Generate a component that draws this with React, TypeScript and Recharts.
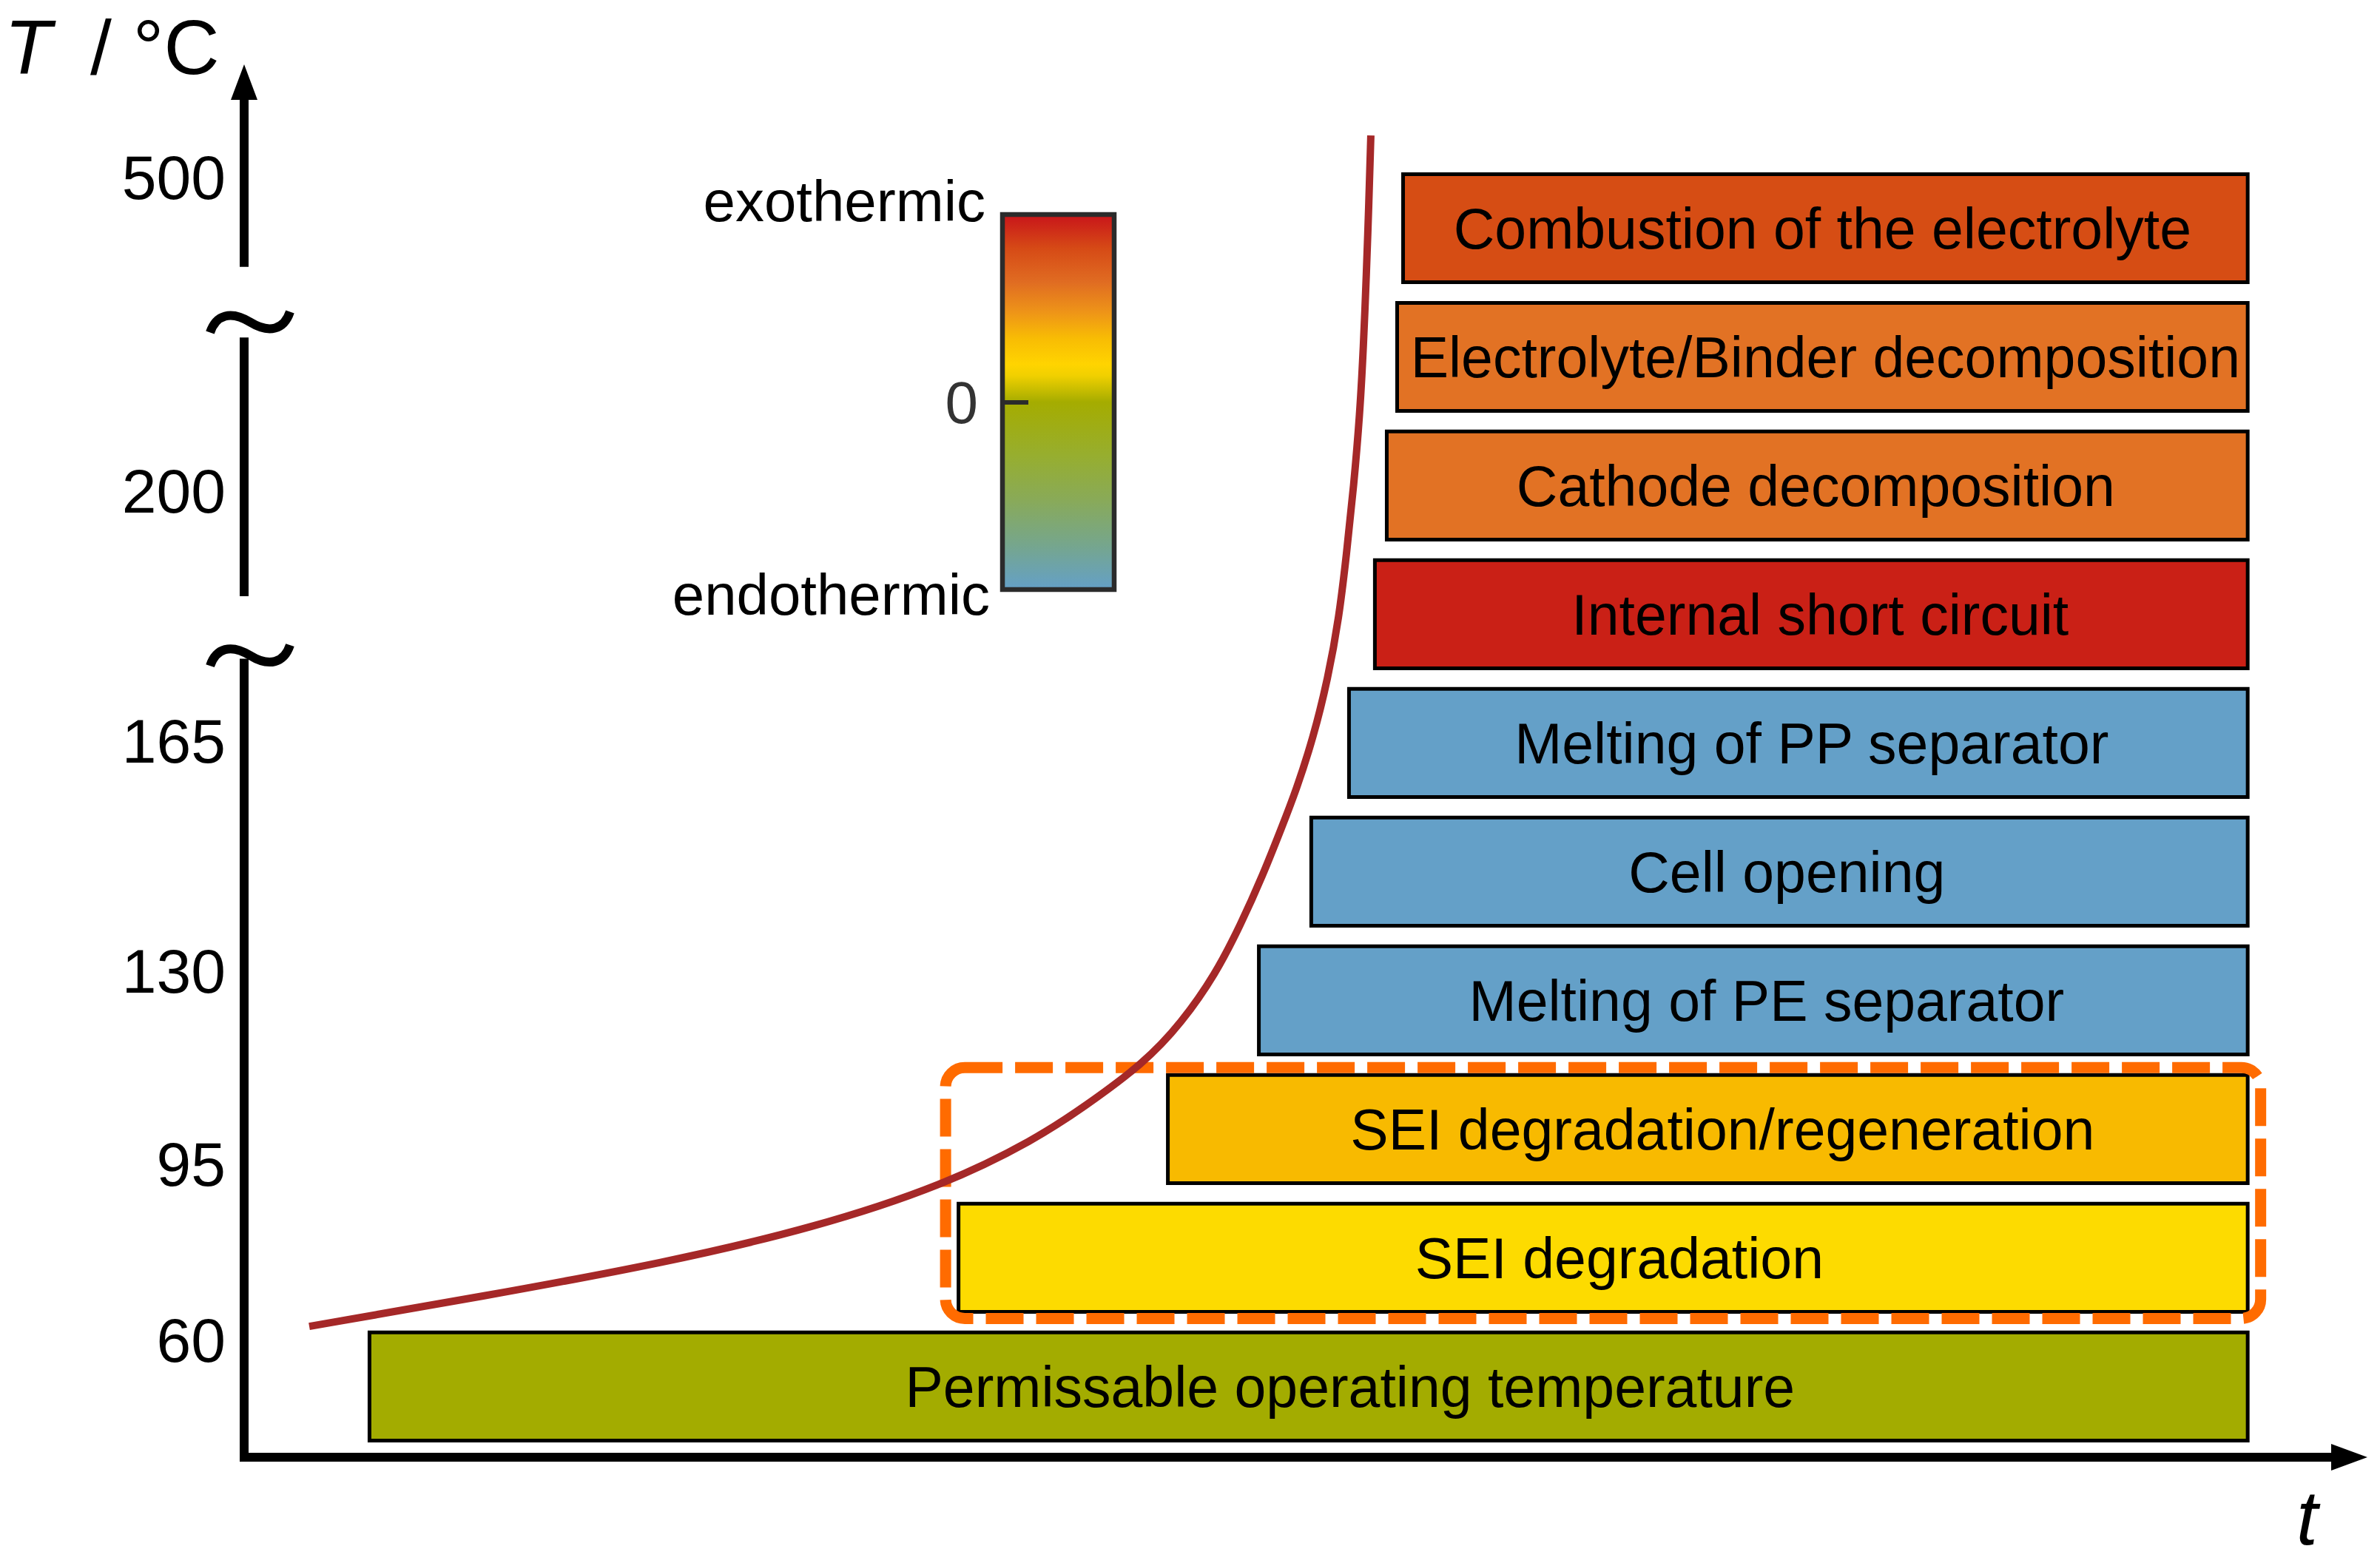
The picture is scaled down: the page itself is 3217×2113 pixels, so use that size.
import {
  ComposedChart,
  Line,
  XAxis,
  YAxis,
  ReferenceArea,
  ReferenceLine,
  ReferenceDot,
  Customized,
} from "recharts";

// stages, bottom row first
const stages = [
  "Permissable operating temperature",
  "SEI degradation",
  "SEI degradation/regeneration",
  "Melting of PE separator",
  "Cell opening",
  "Melting of PP separator",
  "Internal short circuit",
  "Cathode decomposition",
  "Electrolyte/Binder decomposition",
  "Combustion of the electrolyte",
];
const stageStart = [5.91, 33.68, 43.55, 47.84, 50.31, 52.09, 53.31, 53.87, 54.36, 54.64];
const stageEnd = [94.46, 94.46, 94.46, 94.46, 94.46, 94.46, 94.46, 94.46, 94.46, 94.46];
const stageColors = [
  "#A3AC00",
  "#FDDB00",
  "#F8BA00",
  "#64A0C8",
  "#64A0C8",
  "#64A0C8",
  "#CA2016",
  "#E27224",
  "#E27224",
  "#D64D14",
];

// broken temperature axis: tick rows and their labels
const tempTicks = [0.91, 2.28, 3.78, 5.57, 7.51, 9.95];
const tempLabels = ["60", "95", "130", "165", "200", "500"];

// temperature curve (time, row level)
const curveTime = [
  3.07, 11.16, 19.88, 26.86, 33.03, 37.32, 39.52, 42.45, 44.19, 45.8, 46.98, 48.03,
  48.94, 49.6, 50.4, 51.1, 51.62, 51.97, 52.32, 52.6, 52.77, 52.91, 53.02, 53.12,
];
const curveLevel = [
  1.017, 1.247, 1.512, 1.782, 2.115, 2.472, 2.713, 3.064, 3.374, 3.753, 4.138, 4.523,
  4.903, 5.184, 5.587, 6.052, 6.524, 7.012, 7.558, 8.104, 8.622, 9.196, 9.714, 10.271,
];

const axisSegments = [
  [0, 6.17],
  [6.69, 8.7],
  [9.25, 10.58],
];
const axisBreaks = [6.23, 8.82];
const highlightRows = [1, 2];

const W = 3217;
const H = 2113;
const FONT = '"Liberation Sans", Arial, Helvetica, sans-serif';
const BAR_LOW = 0.13;
const BAR_HIGH = 0.97;
const labelShift = [56, 22, 20, 18, 10, 18, 12, -2, 4, -4];

const curveData = curveTime.map((t, i) => ({ t, level: curveLevel[i] }));

const axisShape = (cap: "butt" | "square") => (p: any) => (
  <line x1={p.x1} y1={p.y1} x2={p.x2} y2={p.y2} stroke="#000" strokeWidth={12} strokeLinecap={cap} />
);

const tildeShape = (p: any) => (
  <path
    d={`M${p.cx - 46},${p.cy + 14} C${p.cx - 38},${p.cy - 10} ${p.cx - 18},${p.cy - 16} ${p.cx + 8},${p.cy} C${p.cx + 34},${p.cy + 16} ${p.cx + 54},${p.cy + 10} ${p.cx + 62},${p.cy - 14}`}
    fill="none"
    stroke="#000"
    strokeWidth={12}
  />
);

function HeatScale() {
  return (
    <g fontFamily={FONT}>
      <defs>
        <linearGradient id="heatGrad" x1="0" y1="0" x2="0" y2="1">
          <stop offset="0" stopColor="#C8141A" />
          <stop offset="0.09" stopColor="#D64A16" />
          <stop offset="0.18" stopColor="#E06C22" />
          <stop offset="0.26" stopColor="#EE9418" />
          <stop offset="0.33" stopColor="#F8BC04" />
          <stop offset="0.4" stopColor="#FFD400" />
          <stop offset="0.43" stopColor="#F0D000" />
          <stop offset="0.5" stopColor="#A5AC00" />
          <stop offset="0.64" stopColor="#97AE2E" />
          <stop offset="0.76" stopColor="#89AA58" />
          <stop offset="0.88" stopColor="#76A68C" />
          <stop offset="1" stopColor="#64A0C8" />
        </linearGradient>
      </defs>
      <rect x={1355} y={290} width={151} height={507} fill="url(#heatGrad)" stroke="#2b2b2b" strokeWidth={6.5} />
      <line x1={1355} y1={544} x2={1390} y2={544} stroke="#2b2b2b" strokeWidth={6} />
      <text x={1322} y={544} dy="0.355em" textAnchor="end" fontSize={80} fill="#333">0</text>
      <text x={1332} y={299} textAnchor="end" fontSize={78} fill="#000">exothermic</text>
      <text x={1338} y={831} textAnchor="end" fontSize={78} fill="#000">endothermic</text>
      <text x={6} y={100} fontSize={104} fill="#000">
        <tspan fontStyle="italic">T</tspan>
        <tspan x={122}>/ °C</tspan>
      </text>
      <text x={3104} y={2088} fontSize={104} fontStyle="italic" fill="#000">t</text>
    </g>
  );
}

export default function App() {
  const hl = highlightRows;
  return (
    <div style={{ position: "absolute", left: 0, top: 0, width: W, height: H, fontFamily: FONT, background: "#fff" }}>
      <ComposedChart width={W} height={H} margin={{ top: 91, right: 20, bottom: 143, left: 0 }}>
        <XAxis type="number" dataKey="t" domain={[0, 100]} allowDataOverflow hide />
        <YAxis
          type="number"
          domain={[0, 10.8]}
          allowDataOverflow
          ticks={tempTicks}
          interval={0}
          tickFormatter={(v: number) => tempLabels[tempTicks.indexOf(v)] ?? ""}
          axisLine={false}
          tickLine={false}
          tickSize={0}
          tickMargin={25}
          width={330}
          tick={{ fontSize: 84, fill: "#000", fontFamily: FONT }}
        />

        {stages.map((name, i) => (
          <ReferenceArea
            key={name}
            x1={stageStart[i]}
            x2={stageEnd[i]}
            y1={i + BAR_LOW}
            y2={i + BAR_HIGH}
            fill={stageColors[i]}
            fillOpacity={1}
            stroke="#000"
            strokeWidth={5}
            label={(p: any) => {
              const vb = p.viewBox;
              return (
                <text
                  x={vb.x + vb.width / 2 + labelShift[i]}
                  y={vb.y + vb.height / 2}
                  dy="0.355em"
                  textAnchor="middle"
                  fontSize={77}
                  fontFamily={FONT}
                  fill="#000"
                >
                  {name}
                </text>
              );
            }}
          />
        ))}

        <ReferenceArea
          x1={stageStart[hl[0]]}
          x2={stageEnd[hl[0]]}
          y1={hl[0] + BAR_LOW}
          y2={hl[1] + BAR_HIGH}
          shape={(p: any) => (
            <rect
              x={p.x - 17.5}
              y={p.y - 10}
              width={p.width + 35}
              height={p.height + 19}
              rx={26}
              ry={26}
              fill="none"
              stroke="#FF6B00"
              strokeWidth={15}
              strokeDasharray="51 17"
            />
          )}
        />

        {axisSegments.map(([a, b], i) => (
          <ReferenceLine
            key={`seg${i}`}
            segment={[
              { x: 0, y: a },
              { x: 0, y: b },
            ]}
            shape={axisShape(i === 0 ? "square" : "butt")}
          />
        ))}
        <ReferenceLine
          segment={[
            { x: 0, y: 0 },
            { x: 98.3, y: 0 },
          ]}
          shape={axisShape("square")}
        />
        <ReferenceDot
          x={0}
          y={10.8}
          shape={(p: any) => (
            <path d={`M${p.cx},${p.cy - 4} L${p.cx + 18},${p.cy + 44} L${p.cx - 18},${p.cy + 44} Z`} fill="#000" />
          )}
        />
        <ReferenceDot
          x={100}
          y={0}
          shape={(p: any) => (
            <path d={`M${p.cx + 3},${p.cy} L${p.cx - 46},${p.cy + 18} L${p.cx - 46},${p.cy - 18} Z`} fill="#000" />
          )}
        />
        {axisBreaks.map((b) => (
          <ReferenceDot key={`brk${b}`} x={0} y={b} shape={tildeShape} />
        ))}

        <Line
          data={curveData}
          dataKey="level"
          type="basis"
          stroke="#A52828"
          strokeWidth={10}
          dot={false}
          activeDot={false}
          isAnimationActive={false}
        />

        <Customized component={HeatScale} />
      </ComposedChart>
    </div>
  );
}
